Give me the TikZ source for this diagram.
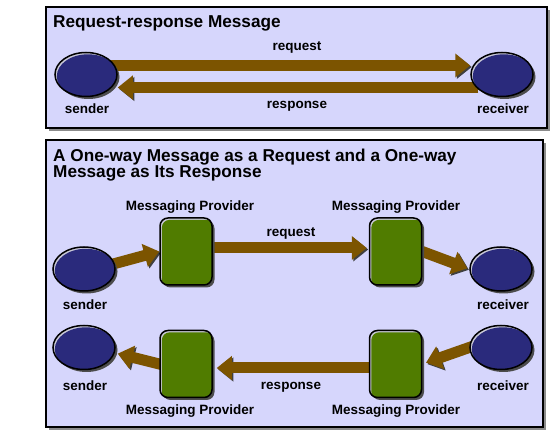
\documentclass[tikz,border=0pt]{standalone}
\usepackage{fontspec}
\setmainfont{Liberation Sans}
\usetikzlibrary{arrows.meta,shapes.geometric,shadows}
\definecolor{panel}{RGB}{214,214,252}
\definecolor{navy}{RGB}{42,42,124}
\definecolor{leaf}{RGB}{80,124,0}
\definecolor{bronze}{RGB}{124,84,0}
\definecolor{shine}{RGB}{200,200,215}
\pgfdeclarelayer{bg}\pgfdeclarelayer{arr}\pgfsetlayers{bg,arr,main}
\tikzset{
 panelbox/.style={draw=black, line width=1.5pt, fill=panel, drop shadow={shadow xshift=3pt, shadow yshift=-3pt, fill=black!45, opacity=1}},
 actor/.style={ellipse, draw=black, line width=1.5pt, fill=shine, minimum width=62pt, minimum height=44pt, inner sep=0pt,
   drop shadow={shadow xshift=2.5pt, shadow yshift=-2.5pt, fill=black!70, opacity=1},
   path picture={\fill[navy] ([shift={(1.8pt,-1.8pt)}]path picture bounding box.center) ellipse [x radius=31pt, y radius=22pt];}},
 provider/.style={rectangle, rounded corners=8pt, draw=black, line width=1.5pt, fill=shine, minimum width=52pt, minimum height=67pt, inner sep=0pt,
   drop shadow={shadow xshift=2.5pt, shadow yshift=-2.5pt, fill=black!70, opacity=1},
   path picture={\fill[leaf, rounded corners=8pt] ([shift={(1.8pt,-1.8pt)}]path picture bounding box.south west) rectangle ([shift={(1.8pt,-1.8pt)}]path picture bounding box.north east);}},
 flow/.style={draw=bronze, line width=11pt, -{Triangle[length=15pt,width=23pt]}, preaction={draw=black!75, transform canvas={shift={(1.5pt,-1.5pt)}}}},
 lbl/.style={font=\bfseries\fontsize{13.5}{14}\selectfont, inner sep=0pt},
 ttl/.style={font=\bfseries\fontsize{17.2}{16}\selectfont, inner sep=0pt, align=left, anchor=west},
}
\begin{document}
\begin{tikzpicture}[x=1pt,y=-1pt]
\useasboundingbox (0,0) rectangle (555,446);
\begin{pgfonlayer}{bg}
\draw[panelbox] (46,7) rectangle (547,128);
\draw[panelbox] (46,140) rectangle (543,427);
\end{pgfonlayer}
% titles
\node[ttl] (title1) at (53,23) {Request-response Message};
\node[ttl] (title2) at (53,165) {A One-way Message as a Request and a One-way\\Message as Its Response};
% top panel
\node[actor] (s1) at (86,74.5) {};
\node[actor] (r1) at (502,74.5) {};
\node[lbl] (l1) at (297,48) {request};
\node[lbl] (l2) at (297,106) {response};
\node[lbl] (l3) at (87,109) {sender};
\node[lbl] (l4) at (503,109) {receiver};
% bottom panel row 1
\node[actor] (s2) at (84,269) {};
\node[actor] (r2) at (501,269) {};
\node[provider] (b1) at (186,251.5) {};
\node[provider] (b2) at (395.5,251.5) {};
\node[lbl] (m1) at (190,207) {Messaging Provider};
\node[lbl] (m2) at (396,207) {Messaging Provider};
\node[lbl] (l5) at (291,233) {request};
\node[lbl] (l6) at (85,305) {sender};
\node[lbl] (l7) at (503,305) {receiver};
% bottom panel row 2
\node[actor] (s3) at (84,347.5) {};
\node[actor] (r3) at (501,347.5) {};
\node[provider] (b3) at (186,364) {};
\node[provider] (b4) at (395.5,364) {};
\node[lbl] (m3) at (190,411) {Messaging Provider};
\node[lbl] (m4) at (396,411) {Messaging Provider};
\node[lbl] (l8) at (291,387) {response};
\node[lbl] (l9) at (85,386) {sender};
\node[lbl] (l10) at (503,386) {receiver};
\begin{pgfonlayer}{arr}
\draw[flow, shorten <=-8pt] ([yshift=9pt]s1.east) -- ([yshift=9pt]r1.west);
\draw[flow, shorten <=-8pt] ([yshift=-13pt]r1.west) -- ([yshift=-13pt]s1.east);
\draw[flow, shorten <=-6pt] (s2.10) -- (b1.west);
\draw[flow, shorten <=-6pt, shorten >=2pt] ([yshift=3.5pt]b1.east) -- ([yshift=3.5pt]b2.west);
\draw[flow, shorten <=-6pt, shorten >=2pt] (b2.east) -- (r2.west);
\draw[flow, shorten <=-6pt, shorten >=4pt] (r3.west) -- (b4.east);
\draw[flow, shorten <=-6pt, shorten >=4pt] ([yshift=-4pt]b4.west) -- ([yshift=-4pt]b3.east);
\draw[flow, shorten <=-6pt, shorten >=3pt] (b3.west) -- (s3.-10);
\end{pgfonlayer}
\end{tikzpicture}
\end{document}
